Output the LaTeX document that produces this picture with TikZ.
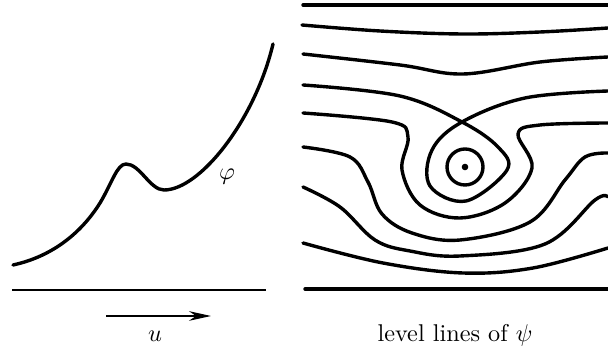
\documentclass[tikz,border=0pt]{standalone}
\usetikzlibrary{arrows.meta}
\begin{document}
\begin{tikzpicture}[x=0.0145cm, y=-0.0145cm,
  courbe/.style={line width=1.4pt, line cap=round, line join=round},
  niveau/.style={courbe, smooth, tension=0.6}]
\useasboundingbox (0,0) rectangle (608,347);

% Graphe de phi
\draw[courbe] (13,265) .. controls (50,257) and (80,235) .. (100,203)
  .. controls (112,183) and (117,164) .. (126,164)
  .. controls (140,164) and (150,190) .. (164,190)
  .. controls (200,190) and (255,120) .. (273,44);
\node (phi) at (227,177) {$\varphi$};

% Axe horizontal
\draw[line width=0.6pt] (12,290) -- (266,290);

% Direction u
\coordinate (ua) at (106,316);
\coordinate (ub) at (211,316);
\draw[line width=0.45pt, -{Stealth[length=3.2mm, width=1.4mm]}] (ua) -- (ub);
\node (u) at (155,336) {$u$};

% Bords de la bande
\draw[courbe] (303,5) -- (608,5);
\draw[courbe] (305,289) -- (608,289);

% Lignes de niveau
\draw[niveau] plot coordinates {(302,25) (380,31) (463,34) (540,32) (608,28)};
\draw[niveau] plot coordinates {(303,54) (400,65) (463,74) (540,62) (608,57)};
% ligne avec point col (auto-intersection)
\draw[niveau] plot coordinates {(303,85) (400,96) (462,122) (498,147) (507,170) (466,201) (430,186) (432,150) (462,122) (525,98) (608,91)};
\draw[niveau] plot coordinates {(303,113) (392,122) (408,137) (402,170) (420,205) (460,218) (505,203) (532,168) (518,134) (540,125) (608,123)};
\draw[niveau] plot coordinates {(303,147) (350,157) (368,182) (382,214) (412,233) (460,240) (530,222) (565,180) (585,157) (608,153)};
\draw[niveau] plot coordinates {(303,187) (340,207) (375,240) (410,251) (460,256) (545,244) (595,200) (608,197)};
\draw[niveau] plot coordinates {(303,243) (383,263) (463,273) (533,268) (608,248)};

% Extremum
\draw[courbe] (465,167) circle (18);
\fill (465,167) circle (3.3);

\node (titre) at (455,335) {level lines of $\psi$};
\end{tikzpicture}
\end{document}
